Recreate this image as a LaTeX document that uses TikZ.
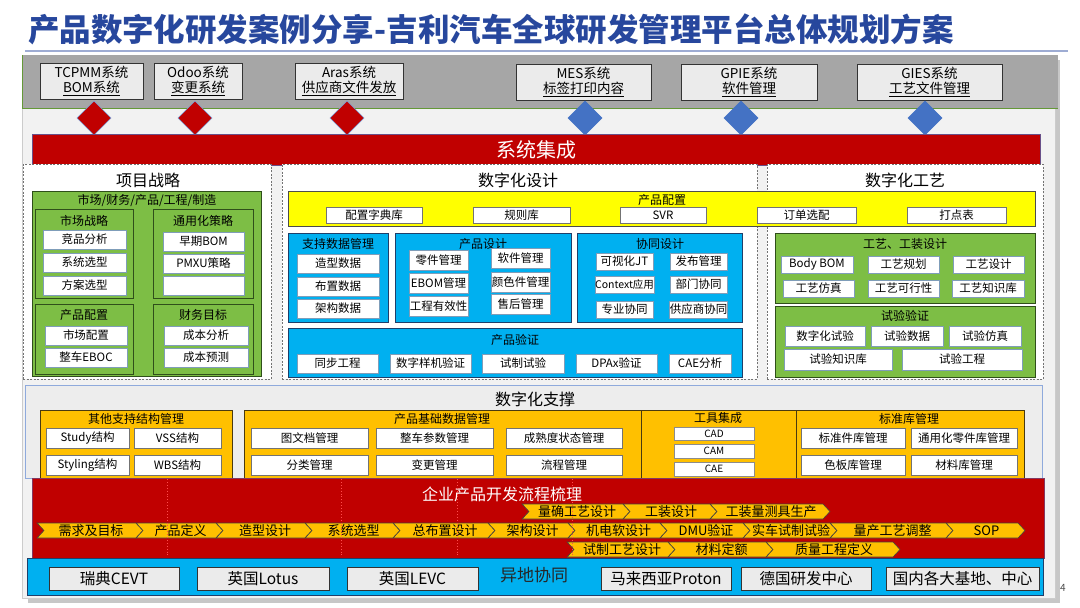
\documentclass[tikz,border=0pt]{standalone}
\usepackage{fontspec}
\setmainfont{Noto Sans CJK SC}
\usetikzlibrary{shapes.geometric}
\definecolor{titleblue}{HTML}{27479D}
\definecolor{gred}{HTML}{C00000}
\definecolor{skyb}{HTML}{00B0F0}
\definecolor{dblue}{HTML}{1F3F6A}
\definecolor{lgreen}{HTML}{7DBE45}
\definecolor{dgreen}{HTML}{2F4F1A}
\definecolor{orng}{HTML}{FFC000}
\definecolor{dorng}{HTML}{4A3A10}
\definecolor{ylw}{HTML}{FFFF00}
\definecolor{bandgray}{HTML}{A6A6A6}
\definecolor{sysgray}{HTML}{EBEBEB}
\definecolor{panelg}{HTML}{F2F2F2}
\definecolor{supg}{HTML}{EDEDED}
\definecolor{itemb}{HTML}{7F9DB9}
\definecolor{dmdblue}{HTML}{4472C4}
\definecolor{chevy}{HTML}{FFC000}
\newcommand\myul[1]{\mbox{\setbox0=\hbox{#1}\rlap{\raisebox{-3pt}{\rule{\wd0}{1pt}}}\box0}}
\newcommand\mybx[7]{\node[#6, minimum width={(#4)-(#2)}, minimum height={(#5)-(#3)}] (#1) at ({((#2)+(#4))/2},{((#3)+(#5))/2}) {#7};}
\newcommand\mychev[6]{%
  \filldraw[chevf] (#2,#4) -- ({#3-7},#4) -- (#3,{(#4+#5)/2}) -- ({#3-7},#5) -- (#2,#5) -- ({#2+7},{(#4+#5)/2}) -- cycle;
  \node[chevt] (#1) at ({(#2+#3)/2+1},{(#4+#5)/2}) {#6};}
\begin{document}
\begin{tikzpicture}[x=1pt,y=-1pt,
  every node/.style={inner sep=0pt,outer sep=0pt},
  itm/.style={draw=itemb,fill=white,line width=0.6pt,font=\fontsize{11.5}{13}\selectfont},
  gitm/.style={draw=black!55,fill=white,line width=0.6pt,font=\fontsize{11.5}{13}\selectfont},
  sysb/.style={draw=black!80,fill=sysgray,line width=0.8pt,align=center,font=\fontsize{13.5}{15.5}\selectfont},
  grpg/.style={draw=dgreen,fill=lgreen,line width=0.8pt},
  grpb/.style={draw=dblue,fill=skyb,line width=0.8pt},
  grpo/.style={draw=dorng,fill=orng,line width=0.8pt},
  ttl/.style={font=\fontsize{12}{14}\selectfont},
  sec/.style={font=\fontsize{16}{18}\selectfont},
  dbox/.style={draw=black!55,dash pattern=on 2pt off 1.5pt,fill=white,line width=0.6pt},
  rdmd/.style={diamond,fill=gred,draw=dmdblue!70,line width=0.5pt,minimum width=34,minimum height=34},
  bdmd/.style={diamond,fill=dmdblue,draw=dmdblue,line width=0.5pt,minimum width=34,minimum height=34},
  locb/.style={draw=black!80,fill=sysgray,line width=0.8pt,font=\fontsize{15.5}{17}\selectfont},
  chevf/.style={fill=chevy,draw=black!75,line width=0.6pt},
  chevt/.style={font=\fontsize{13}{15}\selectfont},
  tool/.style={draw=black!45,fill=white,line width=0.6pt,font=\fontsize{10}{12}\selectfont}
]
\useasboundingbox (0,0) rectangle (1080,608);
\fill[white] (0,0) rectangle (1080,608);
% title
\node[anchor=west,text=titleblue,font=\fontsize{31.5}{35}\selectfont\bfseries] (title) at (28,29) {产品数字化研发案例分享-吉利汽车全球研发管理平台总体规划方案};
\draw[color=titleblue!45,line width=1.5pt] (25,51) -- (1068,51);
% panel
\fill[black!22] (28,60) rectangle (1060,603);
\fill[panelg] (22,55) rectangle (1055,598);
\draw[black!20,line width=0.5pt] (22,55) rectangle (1055,598);
% top band
\fill[bandgray] (22,55) rectangle (1058,108);
\draw[color=lgreen!80!black,line width=0.8pt] (22,55) -- (22,108) -- (1058,108);
% system boxes
\mybx{s1}{40}{63}{143}{99}{sysb}{TCPMM系统\\\myul{BOM系统}}
\mybx{s2}{154}{63}{242}{99}{sysb}{Odoo系统\\\myul{变更系统}}
\mybx{s3}{295}{63}{403}{99}{sysb}{Aras系统\\\myul{供应商文件发放}}
\mybx{s4}{516}{64}{651}{100}{sysb}{MES系统\\\myul{标签打印内容}}
\mybx{s5}{681}{64}{817}{100}{sysb}{GPIE系统\\\myul{软件管理}}
\mybx{s6}{857}{64}{1002}{100}{sysb}{GIES系统\\\myul{工艺文件管理}}
% diamonds
\node[rdmd] (d1) at (94,118) {};
\node[rdmd] (d2) at (195,118) {};
\node[rdmd] (d3) at (347,118) {};
\node[bdmd] (d4) at (585,118) {};
\node[bdmd] (d5) at (741,118) {};
\node[bdmd] (d6) at (925,118) {};
% system integration bar
\mybx{sysint}{32}{134}{1040}{165}{fill=gred,draw=dmdblue!70!gred,line width=0.6pt,text=white,font=\fontsize{20}{22}\selectfont}{系统集成}
% dashed sections
\mybx{dx1}{23}{164}{271}{379}{dbox}{}
\mybx{dx2}{282}{164}{757}{379}{dbox}{}
\mybx{dx3}{767}{164}{1043}{379}{dbox}{}
\node[sec] (t1) at (148,180) {项目战略};
\node[sec] (t2) at (518,180) {数字化设计};
\node[sec] (t3) at (905,180) {数字化工艺};
% ---------- 项目战略
\mybx{pg}{32}{191}{261}{376}{grpg}{}
\node[ttl] (pgt) at (147,200) {市场/财务/产品/工程/制造};
\mybx{g1}{35}{209}{133}{298}{grpg}{}
\node[ttl] (g1t) at (84,221) {市场战略};
\mybx{g1a}{43}{230}{126}{249}{itm}{竞品分析}
\mybx{g1b}{43}{253}{126}{272}{itm}{系统选型}
\mybx{g1c}{43}{276}{126}{295}{itm}{方案选型}
\mybx{g2}{153}{209}{253}{298}{grpg}{}
\node[ttl] (g2t) at (203,221) {通用化策略};
\mybx{g2a}{163}{232}{244}{251}{itm}{早期BOM}
\mybx{g2b}{163}{254}{244}{273}{itm}{PMXU策略}
\mybx{g2c}{163}{276}{244}{295}{itm}{}
\mybx{g3}{35}{304}{133}{374}{grpg}{}
\node[ttl] (g3t) at (84,315) {产品配置};
\mybx{g3a}{45}{326}{127}{345}{itm}{市场配置}
\mybx{g3b}{45}{348}{127}{367}{itm}{整车EBOC}
\mybx{g4}{153}{304}{253}{374}{grpg}{}
\node[ttl] (g4t) at (203,315) {财务目标};
\mybx{g4a}{164}{326}{248}{345}{itm}{成本分析}
\mybx{g4b}{164}{348}{248}{367}{itm}{成本预测}
% ---------- 数字化设计
\mybx{yb}{288}{191}{1035}{226}{fill=ylw,draw=black!70,line width=0.8pt}{}
\node[ttl] (ybt) at (662,200) {产品配置};
\mybx{y1}{326}{207}{422}{223}{gitm}{配置字典库}
\mybx{y2}{473}{207}{570}{223}{gitm}{规则库}
\mybx{y3}{620}{207}{706}{223}{gitm}{SVR}
\mybx{y4}{757}{207}{856}{223}{gitm}{订单选配}
\mybx{y5}{907}{207}{1006}{223}{gitm}{打点表}
\mybx{b1}{288}{233}{388}{322}{grpb}{}
\node[ttl] (b1t) at (338,244) {支持数据管理};
\mybx{b1a}{297}{254}{379}{273}{itm}{造型数据}
\mybx{b1b}{297}{277}{379}{296}{itm}{布置数据}
\mybx{b1c}{297}{299}{379}{318}{itm}{架构数据}
\mybx{b2}{395}{233}{571}{322}{grpb}{}
\node[ttl] (b2t) at (483,244) {产品设计};
\mybx{b2a}{409}{250}{468}{270}{itm}{零件管理}
\mybx{b2b}{491}{248}{550}{268}{itm}{软件管理}
\mybx{b2c}{409}{273}{468}{293}{itm}{EBOM管理}
\mybx{b2d}{491}{272}{550}{292}{itm}{颜色件管理}
\mybx{b2e}{409}{296}{468}{316}{itm}{工程有效性}
\mybx{b2f}{491}{294}{550}{314}{itm}{售后管理}
\mybx{b3}{577}{233}{742}{322}{grpb}{}
\node[ttl] (b3t) at (660,244) {协同设计};
\mybx{b3a}{596}{253}{653}{270}{itm}{可视化JT}
\mybx{b3b}{670}{253}{727}{270}{itm}{发布管理}
\mybx{b3c}{596}{276}{653}{293}{itm,font=\fontsize{10.5}{12}\selectfont}{Context应用}
\mybx{b3d}{670}{276}{727}{293}{itm}{部门协同}
\mybx{b3e}{596}{301}{653}{318}{itm}{专业协同}
\mybx{b3f}{670}{301}{727}{318}{itm}{供应商协同}
\mybx{b4}{288}{328}{742}{377}{grpb}{}
\node[ttl] (b4t) at (515,340) {产品验证};
\mybx{b4a}{297}{354}{378}{373}{itm}{同步工程}
\mybx{b4b}{390}{354}{471}{373}{itm}{数字样机验证}
\mybx{b4c}{482}{354}{564}{373}{itm}{试制试验}
\mybx{b4d}{576}{354}{657}{373}{itm}{DPAx验证}
\mybx{b4e}{669}{354}{731}{373}{itm}{CAE分析}
% ---------- 数字化工艺
\mybx{p1}{775}{233}{1035}{303}{grpg}{}
\node[ttl] (p1t) at (905,244) {工艺、工装设计};
\mybx{p1a}{781}{256}{853}{273}{itm}{Body BOM}
\mybx{p1b}{868}{256}{939}{273}{itm}{工艺规划}
\mybx{p1c}{953}{256}{1024}{273}{itm}{工艺设计}
\mybx{p1d}{783}{280}{854}{297}{itm}{工艺仿真}
\mybx{p1e}{868}{280}{939}{297}{itm}{工艺可行性}
\mybx{p1f}{952}{280}{1024}{297}{itm}{工艺知识库}
\mybx{p2}{775}{306}{1035}{377}{grpg}{}
\node[ttl] (p2t) at (905,316) {试验验证};
\mybx{p2a}{785}{326}{865}{346}{itm}{数字化试验}
\mybx{p2b}{871}{326}{943}{346}{itm}{试验数据}
\mybx{p2c}{949}{326}{1021}{346}{itm}{试验仿真}
\mybx{p2d}{784}{349}{892}{370}{itm}{试验知识库}
\mybx{p2e}{902}{349}{1022}{370}{itm}{试验工程}
% ---------- 数字化支撑
\mybx{sup}{25}{385}{1042}{478}{fill=supg,draw=dmdblue!60,line width=0.6pt}{}
\node[sec] (supt) at (535,399) {数字化支撑};
\mybx{o1}{40}{410}{232}{478}{grpo}{}
\node[ttl] (o1t) at (136,419) {其他支持结构管理};
\mybx{o1a}{46}{428}{129}{448}{gitm}{Study结构}
\mybx{o1b}{134}{428}{221}{448}{gitm}{VSS结构}
\mybx{o1c}{46}{455}{129}{475}{gitm}{Styling结构}
\mybx{o1d}{134}{455}{221}{475}{gitm}{WBS结构}
\mybx{o2}{244}{410}{641}{478}{grpo}{}
\node[ttl] (o2t) at (442,419) {产品基础数据管理};
\mybx{o2a}{251}{428}{368}{448}{gitm}{图文档管理}
\mybx{o2b}{376}{428}{493}{448}{gitm}{整车参数管理}
\mybx{o2c}{506}{428}{622}{448}{gitm}{成熟度状态管理}
\mybx{o2d}{251}{455}{368}{475}{gitm}{分类管理}
\mybx{o2e}{376}{455}{493}{475}{gitm}{变更管理}
\mybx{o2f}{506}{455}{622}{475}{gitm}{流程管理}
\mybx{o3}{641}{410}{796}{478}{grpo}{}
\node[ttl] (o3t) at (718,418) {工具集成};
\mybx{o3a}{674}{427}{754}{440}{tool}{CAD}
\mybx{o3b}{674}{444}{754}{458}{tool}{CAM}
\mybx{o3c}{674}{462}{754}{476}{tool}{CAE}
\mybx{o4}{796}{410}{1024}{478}{grpo}{}
\node[ttl] (o4t) at (909,419) {标准库管理};
\mybx{o4a}{801}{428}{905}{448}{gitm}{标准件库管理}
\mybx{o4b}{911}{428}{1017}{448}{gitm}{通用化零件库管理}
\mybx{o4c}{801}{455}{905}{475}{gitm}{色板库管理}
\mybx{o4d}{911}{455}{1017}{475}{gitm}{材料库管理}
% ---------- 流程
\mybx{rb}{32}{478}{1044}{558}{fill=gred,draw=dmdblue!50!gred,line width=0.6pt}{}
\node[sec,text=white] (rbt) at (502,494) {企业产品开发流程梳理};
% top row
\mychev{ca1}{522}{630}{504}{519}{量确工艺设计}
\mychev{ca2}{623}{717}{504}{519}{工装设计}
\mychev{ca3}{710}{830}{504}{519}{工装量测具生产}
% main row
\mychev{cb1}{37}{143}{523}{538}{需求及目标}
\mychev{cb2}{136}{223}{523}{538}{产品定义}
\mychev{cb3}{216}{312}{523}{538}{造型设计}
\mychev{cb4}{305}{400}{523}{538}{系统选型}
\mychev{cb5}{393}{495}{523}{538}{总布置设计}
\mychev{cb6}{488}{575}{523}{538}{架构设计}
\mychev{cb7}{568}{667}{523}{538}{机电软设计}
\mychev{cb8}{660}{750}{523}{538}{DMU验证}
\mychev{cb9}{743}{837}{523}{538}{实车试制试验}
\mychev{cb10}{830}{953}{523}{538}{量产工艺调整}
\mychev{cb11}{946}{1025}{523}{538}{SOP}
% bottom row
\mychev{cc1}{567}{675}{542}{557}{试制工艺设计}
\mychev{cc2}{668}{773}{542}{557}{材料定额}
\mychev{cc3}{766}{900}{542}{557}{质量工程定义}
% dotted dividers
\foreach \xx in {167,341,457,572} \draw[color=red!70!white,dotted,line width=0.9pt] (\xx,479) -- (\xx,557);
% ---------- 异地协同
\mybx{lb}{27}{558}{1043}{595}{fill=skyb,draw=dblue,line width=0.9pt}{}
\mybx{l1}{49}{567}{179}{590}{locb}{瑞典CEVT}
\mybx{l2}{197}{567}{329}{590}{locb}{英国Lotus}
\mybx{l3}{347}{567}{478}{590}{locb}{英国LEVC}
\node[font=\fontsize{17}{19}\selectfont,text=black!85] (lbt) at (534,575) {异地协同};
\mybx{l4}{601}{567}{731}{590}{locb}{马来西亚Proton}
\mybx{l5}{741}{567}{871}{590}{locb}{德国研发中心}
\mybx{l6}{886}{567}{1039}{590}{locb}{国内各大基地、中心}
\node[font=\fontsize{10}{12}\selectfont,text=black!70] (pg4) at (1063,588) {4};
\end{tikzpicture}
\end{document}
